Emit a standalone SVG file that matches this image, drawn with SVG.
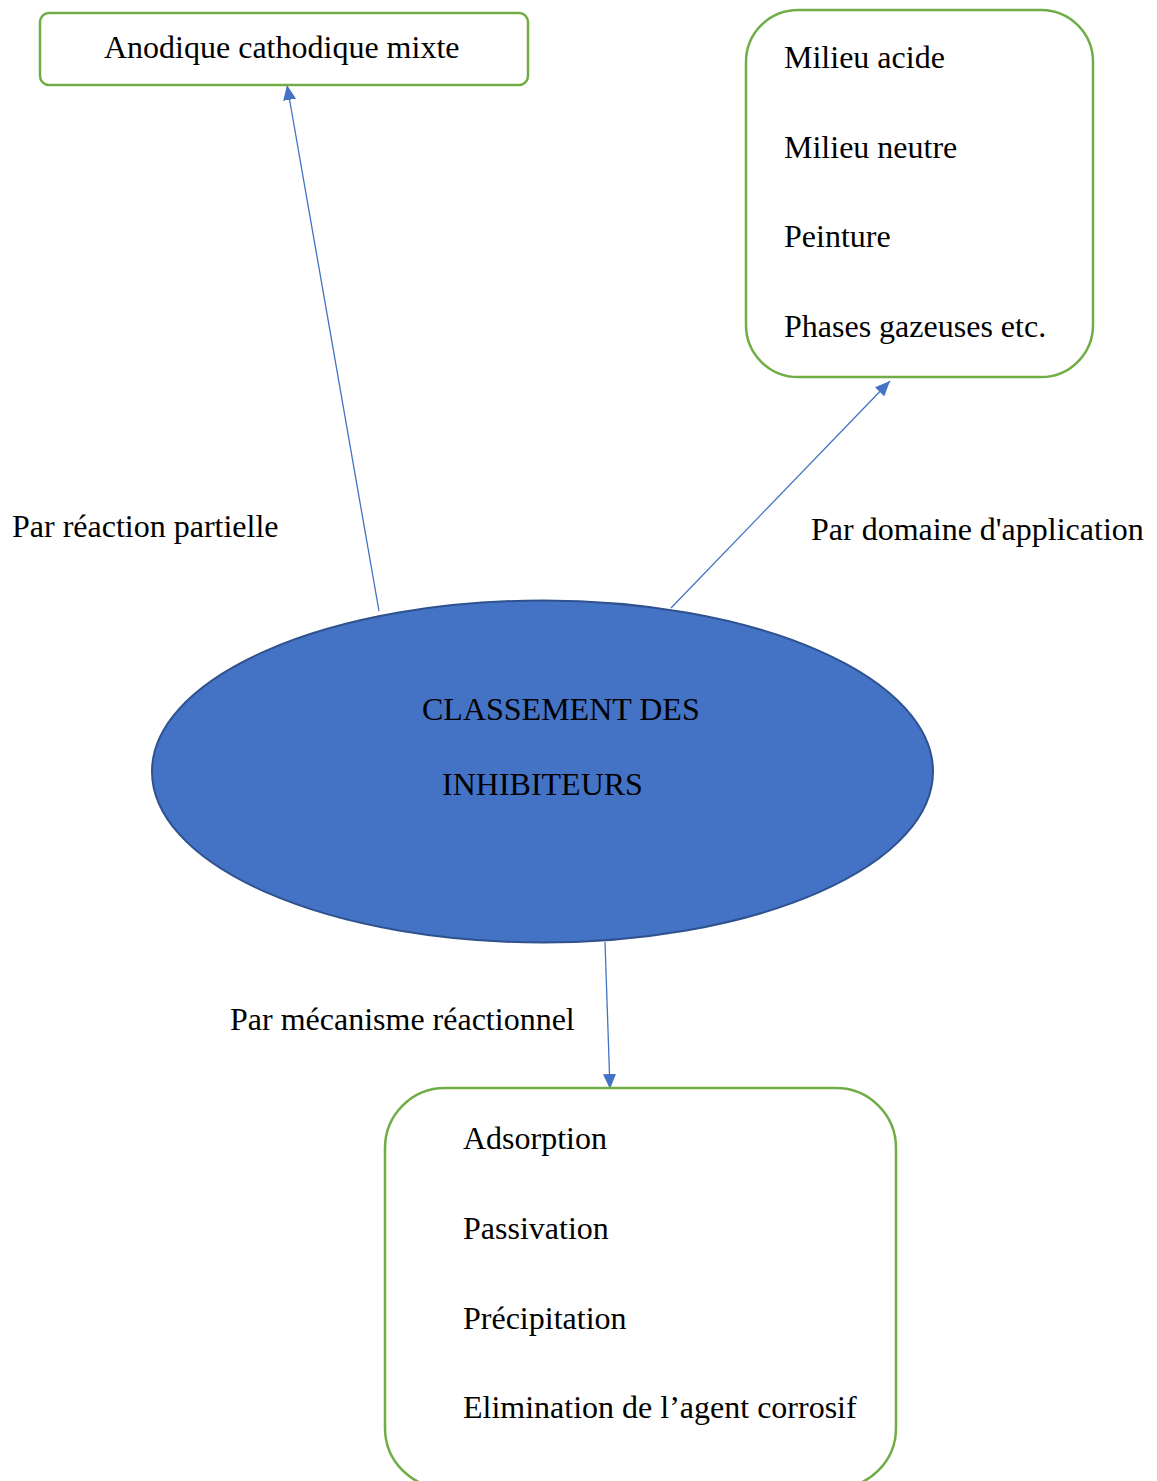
<svg xmlns="http://www.w3.org/2000/svg" width="1157" height="1481" viewBox="0 0 1157 1481">
<style>
.box{fill:#fff;stroke:#70AD47;stroke-width:2.5}
.t{font-family:"Liberation Serif","Times New Roman",serif;font-size:32px;fill:#000}
.c{stroke:#4472C4;stroke-width:1.3;fill:none}
</style>
<defs>
<marker id="ah" markerUnits="userSpaceOnUse" markerWidth="16" markerHeight="14" refX="15" refY="6.5" orient="auto">
<path d="M0,0 L15,6.5 L0,13 z" fill="#4472C4"/>
</marker>
</defs>
<rect width="1157" height="1481" fill="#fff"/>
<g id="connectors">
<line class="c" x1="379" y1="611" x2="287" y2="85" marker-end="url(#ah)"/>
<line class="c" x1="671" y1="608" x2="890" y2="381" marker-end="url(#ah)"/>
<line class="c" x1="605" y1="942" x2="610" y2="1089" marker-end="url(#ah)"/>
</g>
<g id="labels">
<text class="t" x="12" y="537">Par réaction partielle</text>
<text class="t" x="811" y="540">Par domaine d'application</text>
<text class="t" x="230" y="1030">Par mécanisme réactionnel</text>
</g>
<g id="node-partielle">
<rect class="box" x="40" y="13" width="488" height="72" rx="9"/>
<text class="t" x="104" y="58">Anodique cathodique mixte</text>
</g>
<g id="node-application">
<rect class="box" x="746" y="10" width="347" height="367" rx="52"/>
<text class="t" x="784" y="68">Milieu acide</text>
<text class="t" x="784" y="158">Milieu neutre</text>
<text class="t" x="784" y="247">Peinture</text>
<text class="t" x="784" y="337">Phases gazeuses etc.</text>
</g>
<g id="node-mecanisme">
<rect class="box" x="385" y="1088" width="511" height="400" rx="60"/>
<text class="t" x="463" y="1149">Adsorption</text>
<text class="t" x="463" y="1239">Passivation</text>
<text class="t" x="463" y="1329">Précipitation</text>
<text class="t" x="463" y="1418">Elimination de l’agent corrosif</text>
</g>
<g id="node-center">
<ellipse cx="542.5" cy="771.5" rx="390.5" ry="171" fill="#4472C4" stroke="#2F528F" stroke-width="2"/>
<text class="t" x="422" y="720">CLASSEMENT DES</text>
<text class="t" x="442" y="795">INHIBITEURS</text>
</g>
</svg>
